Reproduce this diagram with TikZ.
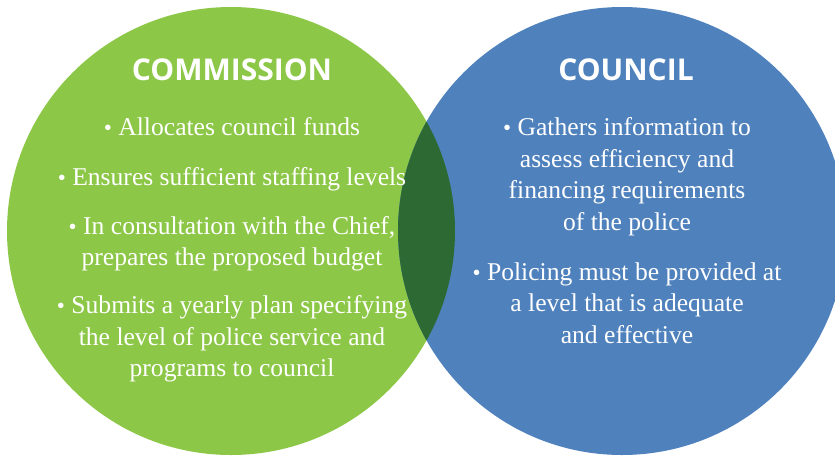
\documentclass[tikz,border=0pt]{standalone}
\usepackage{fontspec}
\setmainfont{Liberation Serif}
\newfontfamily\titlefont{Open Sans}
\definecolor{cgreen}{HTML}{8CC747}
\definecolor{cblue}{HTML}{4F81BC}
\definecolor{cdark}{HTML}{2D6A33}
\tikzset{
  venn/.style={draw=none},
  ttl/.style={anchor=base, text=white, font=\titlefont\bfseries\fontsize{30}{36}\selectfont, inner sep=0pt},
  bline/.style={anchor=base, text=white, font=\fontsize{25.6}{30}\selectfont, inner sep=0pt}
}
\newcommand{\bul}{{\raisebox{-0.02em}{\scalebox{0.9}{\textbullet}}}\ }
\begin{document}
\begin{tikzpicture}[x=1pt,y=-1pt]
\useasboundingbox (0,0) rectangle (835,456);
\fill[cgreen] (231,231) circle (224);
\fill[cblue] (622,231) circle (224);
\begin{scope}
  \clip (231,231) circle (224);
  \fill[cdark] (622,231) circle (224);
\end{scope}
\node[ttl] (t1) at (232,80) {COMMISSION};
\node[ttl] (t2) at (626,80) {COUNCIL};
\node[bline] (l1) at (232,135) {\bul Allocates council funds};
\node[bline] (l2) at (232,185) {\bul Ensures sufficient staffing levels};
\node[bline] (l3) at (232,234) {\bul In consultation with the Chief,};
\node[bline] (l4) at (232,265) {prepares the proposed budget};
\node[bline] (l5) at (232,313) {\bul Submits a yearly plan specifying};
\node[bline] (l6) at (232,345) {the level of police service and};
\node[bline] (l7) at (232,376) {programs to council};
\node[bline] (r1) at (627,135) {\bul Gathers information to};
\node[bline] (r2) at (627,167) {assess efficiency and};
\node[bline] (r3) at (627,198) {financing requirements};
\node[bline] (r4) at (627,230) {of the police};
\node[bline] (r5) at (627,280) {\bul Policing must be provided at};
\node[bline] (r6) at (627,311) {a level that is adequate};
\node[bline] (r7) at (627,343) {and effective};
\end{tikzpicture}
\end{document}
